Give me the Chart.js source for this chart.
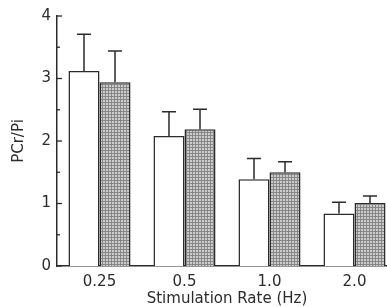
<html lang="en">
<head>
    <meta charset="UTF-8">
    <title>PCr/Pi vs Stimulation Rate</title>
    <style>
        html, body {
            margin: 0;
            padding: 0;
            background: #ffffff;
            overflow: hidden;
        }
        .chart-box {
            width: 400px;
            height: 307px;
        }
    </style>
</head>
<body>
    <div class="chart-box">
        <canvas id="rateChart"></canvas>
    </div>

    <script src="https://cdn.jsdelivr.net/npm/chart.js"></script>
    <script>
        // data
        const rates = ['0.25', '0.5', '1.0', '2.0'];
        const openMeans = [3.12, 2.08, 1.39, 0.84];
        const openErrors = [0.59, 0.39, 0.33, 0.18];
        const hatchedMeans = [2.94, 2.19, 1.50, 1.01];
        const hatchedErrors = [0.50, 0.32, 0.17, 0.11];
        const yTicks = [0, 1, 2, 3, 4];

        const ink = '#2b2b2b';

        // fine mesh screen for the shaded bars
        function makeScreen() {
            const c = document.createElement('canvas');
            c.width = 3;
            c.height = 3;
            const g = c.getContext('2d');
            g.fillStyle = '#cdcdcd';
            g.fillRect(0, 0, 3, 3);
            g.fillStyle = '#868686';
            g.fillRect(0, 0, 3, 1);
            g.fillRect(0, 0, 1, 3);
            return g.createPattern(c, 'repeat');
        }

        // error bars on top of each bar
        const errorBars = {
            id: 'errorBars',
            afterDatasetsDraw(chart) {
                const ctx = chart.ctx;
                const yScale = chart.scales.y;
                chart.data.datasets.forEach((ds, di) => {
                    const meta = chart.getDatasetMeta(di);
                    meta.data.forEach((bar, i) => {
                        const top = yScale.getPixelForValue(ds.data[i] + ds.errors[i]);
                        ctx.save();
                        ctx.strokeStyle = ink;
                        ctx.lineWidth = 1.5;
                        ctx.beginPath();
                        ctx.moveTo(bar.x, bar.y);
                        ctx.lineTo(bar.x, top);
                        ctx.moveTo(bar.x - 7, top);
                        ctx.lineTo(bar.x + 7, top);
                        ctx.stroke();
                        ctx.restore();
                    });
                });
            }
        };

        // short tick marks pointing into the plot
        const innerTicks = {
            id: 'innerTicks',
            afterDraw(chart) {
                const ctx = chart.ctx;
                const yScale = chart.scales.y;
                const left = chart.chartArea.left;
                ctx.save();
                ctx.strokeStyle = ink;
                ctx.lineWidth = 1.3;
                for (let v = 0; v <= 4; v += 0.5) {
                    const y = yScale.getPixelForValue(v);
                    const len = Number.isInteger(v) ? 5 : 3;
                    ctx.beginPath();
                    ctx.moveTo(left, y);
                    ctx.lineTo(left + len, y);
                    ctx.stroke();
                }
                ctx.restore();
            }
        };

        const ctx = document.getElementById('rateChart').getContext('2d');
        const rateChart = new Chart(ctx, {
            type: 'bar',
            data: {
                labels: rates,
                datasets: [
                    {
                        label: 'open',
                        data: openMeans,
                        errors: openErrors,
                        backgroundColor: '#ffffff',
                        borderColor: ink,
                        borderWidth: 1.5,
                        borderSkipped: 'bottom'
                    },
                    {
                        label: 'shaded',
                        data: hatchedMeans,
                        errors: hatchedErrors,
                        backgroundColor: makeScreen(),
                        borderColor: ink,
                        borderWidth: 1.5,
                        borderSkipped: 'bottom'
                    }
                ]
            },
            options: {
                responsive: true,
                maintainAspectRatio: false,
                animation: false,
                layout: {
                    padding: { top: 16, right: 3, left: 0, bottom: 0 }
                },
                categoryPercentage: 0.73,
                barPercentage: 1.0,
                plugins: {
                    legend: { display: false },
                    tooltip: { enabled: false }
                },
                scales: {
                    x: {
                        grid: { display: false, drawTicks: false },
                        border: { display: true, color: ink, width: 1.5 },
                        ticks: {
                            color: ink,
                            padding: 7,
                            font: { family: 'DejaVu Sans', size: 15 }
                        },
                        title: {
                            display: true,
                            text: 'Stimulation Rate (Hz)',
                            color: ink,
                            padding: { top: 0, bottom: 0 },
                            font: { family: 'DejaVu Sans', size: 15, lineHeight: 1.05 }
                        },
                        afterFit(scale) {
                            scale.height = 41;
                        }
                    },
                    y: {
                        min: 0,
                        max: 4,
                        afterBuildTicks(scale) {
                            scale.ticks = yTicks.map(v => ({ value: v }));
                        },
                        grid: { display: false, drawTicks: false },
                        border: { display: true, color: ink, width: 1.5 },
                        ticks: {
                            color: ink,
                            padding: 6,
                            font: { family: 'DejaVu Sans', size: 15 }
                        },
                        title: {
                            display: true,
                            text: 'PCr/Pi',
                            color: ink,
                            padding: { top: 10, bottom: 0 },
                            font: { family: 'DejaVu Sans', size: 15 }
                        },
                        afterFit(scale) {
                            scale.width = 57;
                        }
                    }
                }
            },
            plugins: [errorBars, innerTicks]
        });
    </script>
</body>
</html>
